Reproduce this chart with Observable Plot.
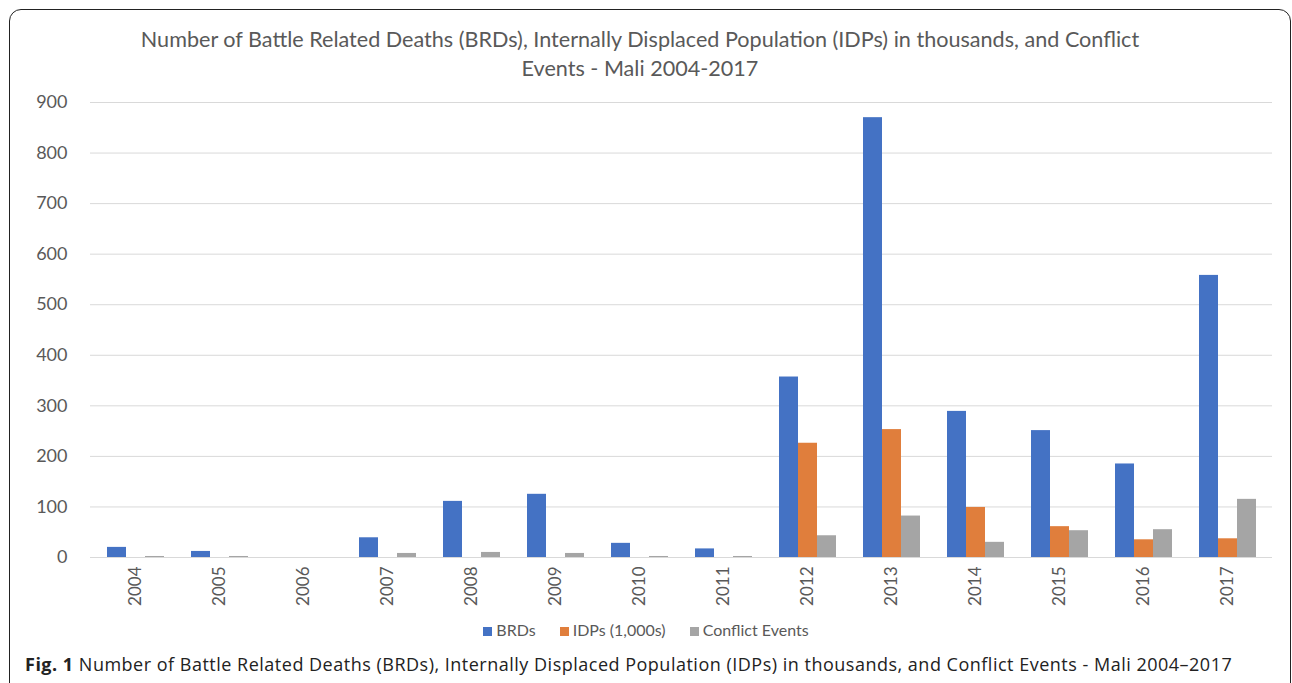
<!DOCTYPE html>
<html>
<head>
<meta charset="utf-8">
<script src="https://cdn.jsdelivr.net/npm/d3@7"></script>
<script src="https://cdn.jsdelivr.net/npm/@observablehq/plot@0.6"></script>
<style>
  html, body { margin: 0; padding: 0; background: #fff; width: 1292px; height: 683px; overflow: hidden; }
  #frame { position: absolute; left: 9px; top: 9px; width: 1282px; height: 720px; border: 1.6px solid #222; border-radius: 12px; box-sizing: border-box; }
  #title { position: absolute; left: 0; top: 25px; width: 1280px; text-align: center; font-family: Lato, sans-serif; font-size: 21.6px; line-height: 29px; color: #595959; }
  #chart { position: absolute; left: 0; top: 90px; }
  #legend { position: absolute; left: 0; top: 620px; width: 1292px; text-align: center; font-family: Lato, sans-serif; font-size: 16px; color: #595959; }
  #legend span.item { margin: 0 12px; }
  #legend span.sw { display: inline-block; width: 9px; height: 9px; margin-right: 4px; }
  #caption { position: absolute; left: 25px; top: 652px; font-family: "Open Sans", sans-serif; font-size: 18px; letter-spacing: 0.5px; color: #222; white-space: nowrap; }
</style>
</head>
<body>
<div id="frame"></div>
<div id="title">Number of Battle Related Deaths (BRDs), Internally Displaced Population (IDPs) in thousands, and Conflict<br>Events - Mali 2004-2017</div>
<div id="chart"></div>
<div id="legend"></div>
<div id="caption"><b>Fig. 1</b> Number of Battle Related Deaths (BRDs), Internally Displaced Population (IDPs) in thousands, and Conflict Events - Mali 2004–2017</div>
<script>
const years = ["2004","2005","2006","2007","2008","2009","2010","2011","2012","2013","2014","2015","2016","2017"];
const brds = [20, 12, 0, 39, 111, 125, 28, 17, 357, 870, 289, 251, 185, 558];
const idps = [0, 0, 0, 0, 0, 0, 0, 0, 226, 253, 99, 61, 35, 37];
const conflictEvents = [2, 2, 0, 8, 10, 8, 2, 2, 43, 82, 30, 53, 55, 115];
const seriesNames = ["BRDs", "IDPs (1,000s)", "Conflict Events"];
const seriesColors = ["#4472C4", "#E07E3C", "#A5A5A5"];
const yTicks = [0, 100, 200, 300, 400, 500, 600, 700, 800, 900];

const seriesValues = [brds, idps, conflictEvents];
const barW = 19;
const offsets = [-barW, 0, barW];

const marks = [
  Plot.gridY(yTicks, {stroke: "#d9d9d9", strokeOpacity: 1, strokeWidth: 1}),
  Plot.axisY(yTicks, {tickSize: 0, tickPadding: 23, fontSize: 18, fill: "#595959", label: null}),
  Plot.axisX({tickSize: 0, tickPadding: 9, tickRotate: -90, fontSize: 17, fill: "#595959", label: null})
];
seriesValues.forEach((vals, i) => {
  const data = years.map((y, j) => ({year: y, value: vals[j]}));
  marks.push(Plot.barY(data, {x: "year", y: "value", fill: seriesColors[i], dx: offsets[i], insetLeft: 0, insetRight: 0}));
});
marks.push(Plot.ruleY([0], {stroke: "#d9d9d9", strokeWidth: 1}));

const chart = Plot.plot({
  width: 1292,
  height: 517,
  marginTop: 12,
  marginBottom: 50,
  marginLeft: 90,
  marginRight: 20,
  style: {fontFamily: "Lato, sans-serif", background: "transparent", color: "#595959"},
  x: {type: "band", domain: years, paddingInner: 1 - barW / (1182 / 14), paddingOuter: (1 - barW / (1182 / 14)) / 2, label: null},
  y: {domain: [0, 900], label: null},
  marks
});
document.getElementById("chart").appendChild(chart);

const legend = document.getElementById("legend");
seriesNames.forEach((n, i) => {
  const item = document.createElement("span");
  item.className = "item";
  item.innerHTML = `<span class="sw" style="background:${seriesColors[i]}"></span>${n}`;
  legend.appendChild(item);
});
</script>
</body>
</html>
